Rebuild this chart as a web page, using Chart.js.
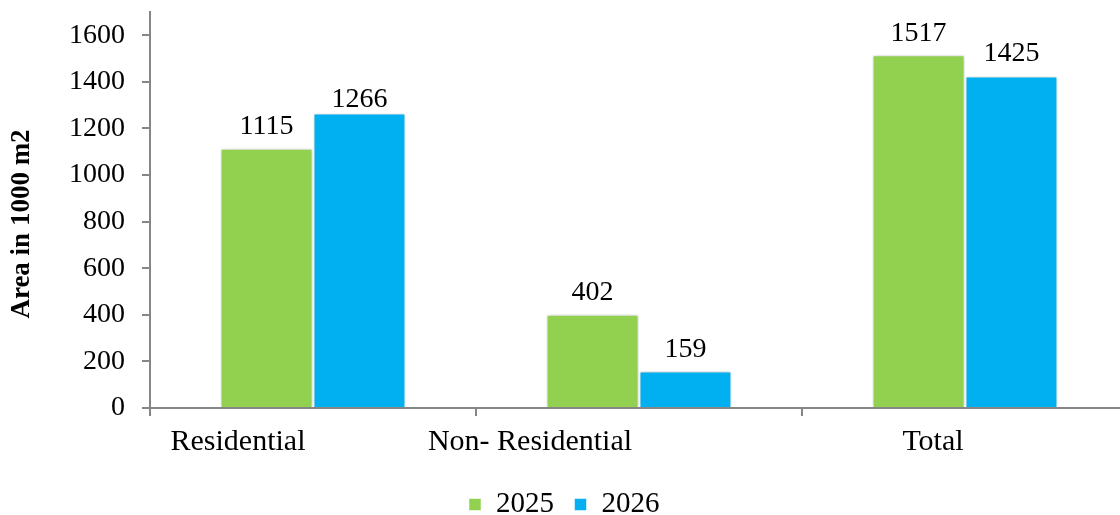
<!DOCTYPE html>
<html><head><meta charset="utf-8">
<script src="https://cdn.jsdelivr.net/npm/chart.js@4.4.1/dist/chart.umd.min.js"></script>
<style>
html,body{margin:0;padding:0;background:#fff;overflow:hidden;width:1120px;height:515px}
#wrap{width:1130px;height:529px}
</style></head>
<body><div id="wrap"><canvas id="c" width="1130" height="529"></canvas></div>
<script>
// ---- data ----
const categories = ['Residential', 'Non- Residential', 'Total'];
const seriesNames = ['2025', '2026'];
const values2025 = [1115, 402, 1517];
const values2026 = [1266, 159, 1425];
const yTicks = [0, 200, 400, 600, 800, 1000, 1200, 1400, 1600];
const yMax = 1700;
const yTitle = 'Area in 1000 m2';

// ---- styling ----
const FONT = '"Liberation Serif", "Times New Roman", serif';
const GREEN = '#92D050', BLUE = '#00B0F0', AXIS = '#868686';
const catLabelShift = [-75, -109, -32];
const valueGap = [[14, 14, 14], [6, 14, 15]];

const labelsPlugin = {
  id: 'labelsPlugin',
  beforeDatasetsDraw(chart) {
    const ctx = chart.ctx;
    ctx.save();
    ctx.shadowColor = 'rgba(0,0,0,0.22)';
    ctx.shadowBlur = 4;
  },
  afterDatasetsDraw(chart) {
    const ctx = chart.ctx;
    ctx.restore();
    ctx.save();
    ctx.font = '28px ' + FONT;
    ctx.fillStyle = '#000';
    ctx.textAlign = 'center';
    ctx.textBaseline = 'alphabetic';
    chart.data.datasets.forEach((ds, di) => {
      const meta = chart.getDatasetMeta(di);
      meta.data.forEach((el, i) => {
        ctx.fillText(String(ds.data[i]), el.x, el.y - valueGap[di][i]);
      });
    });
    ctx.restore();
  },
  afterDraw(chart) {
    const ctx = chart.ctx;
    const xs = chart.scales.x, ys = chart.scales.y;
    ctx.save();
    ctx.fillStyle = '#000';
    ctx.font = '30px ' + FONT;
    ctx.textAlign = 'center';
    ctx.textBaseline = 'middle';
    categories.forEach((c, i) => {
      ctx.fillText(c, xs.getPixelForValue(i) + catLabelShift[i], xs.top + 34);
    });
    ctx.font = 'bold 27px ' + FONT;
    ctx.translate(22, (ys.top + ys.bottom) / 2 + 14);
    ctx.rotate(-Math.PI / 2);
    ctx.fillText(yTitle, 0, 0);
    ctx.restore();
  }
};

new Chart(document.getElementById('c'), {
  type: 'bar',
  data: {
    labels: categories,
    datasets: [
      { label: seriesNames[0], data: values2025, backgroundColor: GREEN, borderColor: '#fff', borderWidth: 1.5 },
      { label: seriesNames[1], data: values2026, backgroundColor: BLUE, borderColor: '#fff', borderWidth: 1.5 }
    ]
  },
  options: {
    responsive: false,
    animation: false,
    devicePixelRatio: 1,
    categoryPercentage: 0.57,
    barPercentage: 1.0,
    layout: { padding: { left: 0, right: 2, top: 12, bottom: 0 } },
    plugins: {
      legend: {
        position: 'bottom',
        labels: { font: { family: FONT, size: 29 }, color: '#000', boxWidth: 13, boxHeight: 13, padding: 20 }
      },
      tooltip: { enabled: false }
    },
    scales: {
      x: {
        offset: true,
        grid: { offset: true, drawOnChartArea: false, drawTicks: true, tickLength: 8, color: AXIS, lineWidth: 2 },
        border: { color: AXIS, width: 2 },
        ticks: { display: false },
        afterFit: s => { s.height = 62; s.paddingLeft = 0; s.paddingRight = 0; }
      },
      y: {
        min: 0, max: yMax,
        afterBuildTicks: s => { s.ticks = yTicks.map(v => ({ value: v })); },
        ticks: { font: { family: FONT, size: 28 }, color: '#000', padding: 17, callback: v => String(v) },
        grid: { drawOnChartArea: false, drawTicks: true, tickLength: 8, color: AXIS, lineWidth: 2 },
        border: { color: AXIS, width: 2 },
        afterFit: s => { s.width = 150; s.paddingTop = 0; s.paddingBottom = 0; }
      }
    }
  },
  plugins: [labelsPlugin]
});
</script>
</body></html>
